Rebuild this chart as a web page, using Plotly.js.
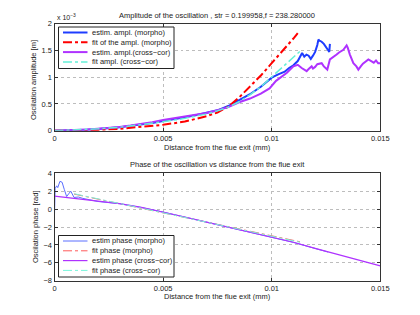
<!DOCTYPE html>
<html>
<head>
<meta charset="utf-8">
<script src="https://cdn.plot.ly/plotly-3.0.1.min.js"></script>
<style>html,body{margin:0;padding:0;background:#fff;}#chart{width:420px;height:315px;}</style>
</head>
<body>
<div id="chart"></div>
<script>
// ---------- DATA (amplitudes in units of 1e-3 m) ----------
var xAmpMorpho = [0,0.0005,0.001,0.0015,0.002,0.0025,0.003,0.0035,0.004,0.0045,0.005,0.0055,0.006,0.0065,0.007,0.0075,0.008,0.0085,0.009,0.0095,0.01,0.0103,0.0106,0.0108,0.011,0.0112,0.01135,0.0114,0.0115,0.0116,0.0117,0.0118,0.0119,0.012,0.0121,0.01215,0.0122,0.0123,0.0124,0.0125,0.0126,0.01265,0.01268];
var ampMorpho  = [0,0.003,0.01,0.02,0.03,0.045,0.065,0.09,0.115,0.145,0.18,0.21,0.25,0.29,0.33,0.38,0.46,0.57,0.68,0.82,0.99,1.05,1.1,1.17,1.22,1.3,1.42,1.45,1.38,1.42,1.40,1.34,1.40,1.47,1.6,1.70,1.68,1.66,1.62,1.57,1.50,1.47,1.62];

var xFitMorpho = [0,0.001,0.002,0.003,0.004,0.005,0.006,0.007,0.0075,0.008,0.0085,0.009,0.0095,0.01,0.0105,0.011,0.0112];
var fitMorpho  = [0,0.005,0.015,0.035,0.07,0.11,0.17,0.27,0.34,0.45,0.62,0.82,1.03,1.26,1.48,1.72,1.82];

var xAmpCross = [0,0.0005,0.001,0.0015,0.002,0.0025,0.003,0.0035,0.004,0.0045,0.005,0.0055,0.006,0.0065,0.007,0.0075,0.008,0.0085,0.009,0.0095,0.0099,0.0102,0.0105,0.0107,0.011,0.0112,0.01138,0.0115,0.01161,0.0117,0.01184,0.0119,0.012,0.0121,0.0123,0.0124,0.01256,0.01268,0.0128,0.01299,0.0131,0.0132,0.0133,0.01345,0.0135,0.0136,0.01376,0.0139,0.01399,0.0141,0.0142,0.01445,0.0146,0.0147,0.0148,0.0149,0.015];
var ampCross  = [0,0.004,0.012,0.022,0.035,0.05,0.07,0.095,0.125,0.16,0.20,0.235,0.27,0.30,0.33,0.38,0.44,0.53,0.6,0.69,0.79,0.93,1.02,1.08,1.2,1.23,1.17,1.14,1.11,1.15,1.2,1.16,1.19,1.24,1.26,1.2,1.14,1.33,1.36,1.42,1.46,1.48,1.51,1.59,1.55,1.42,1.26,1.2,1.14,1.2,1.25,1.33,1.30,1.27,1.31,1.26,1.26];

var xFitCross = [0,0.001,0.002,0.003,0.004,0.005,0.006,0.007,0.0075,0.008,0.0085,0.009,0.0095,0.01,0.0105,0.011,0.0113];
var fitCross  = [0,0.015,0.035,0.065,0.11,0.165,0.23,0.31,0.37,0.44,0.54,0.67,0.82,1.0,1.18,1.37,1.48];

// phase (rad)
var xPhMorpho = [0,0.00003,0.0001,0.00015,0.00025,0.00035,0.00045,0.00056,0.00065,0.00075,0.0009,0.0011,0.0013,0.0015,0.002,0.003,0.004,0.005,0.006,0.007,0.008,0.009,0.0099,0.0101,0.011,0.012,0.0126];
var phMorpho  = [-0.6,2.3,2.6,2.4,3.1,3.0,2.2,1.4,1.7,2.0,1.3,1.35,1.2,1.1,0.85,0.6,0.18,-0.33,-0.9,-1.47,-2.05,-2.6,-3.07,-3.25,-3.72,-4.4,-4.8];

var xPhFitMorpho = [0.0009,0.002,0.003,0.004,0.005,0.006,0.007,0.008,0.009,0.01,0.011,0.0113];
var phFitMorpho  = [1.68,1.12,0.6,0.1,-0.42,-0.95,-1.47,-2.0,-2.5,-2.95,-3.5,-3.65];

var xPhCross = [0,0.0015,0.003,0.004,0.005,0.006,0.007,0.008,0.009,0.0099,0.0101,0.011,0.012,0.013,0.014,0.015];
var phCross  = [1.45,1.02,0.62,0.2,-0.32,-0.88,-1.45,-2.02,-2.58,-3.05,-3.22,-3.7,-4.38,-5.05,-5.72,-6.35];

var xPhFitCross = [0.0009,0.002,0.003,0.004,0.005,0.006,0.007,0.008,0.009,0.01,0.011,0.0113];
var phFitCross  = [1.72,1.15,0.6,0.06,-0.48,-1.0,-1.52,-2.04,-2.56,-3.05,-3.55,-3.7];

var xTickVals = [0,0.005,0.01,0.015];
var xTickText = ['0','0.005','0.01','0.015'];
var ampTickVals = [0,0.5,1,1.5,2];
var ampTickText = ['0','0.5','1','1.5','2'];
var phTickVals = [-8,-6,-4,-2,0,2,4];
var phTickText = ['\u22128','\u22126','\u22124','\u22122','0','2','4'];

var topNames = ['estim. ampl. (morpho)','fit of the ampl. (morpho)','estim. ampl.(cross\u2212cor)','fit ampl. (cross\u2212cor)'];
var botNames = ['estim phase (morpho)','fit phase (morpho)','estim phase (cross\u2212cor)','fit phase (cross\u2212cor)'];
var topTitle = 'Amplitude of the oscillation , str = 0.199958,f = 238.280000';
var botTitle = 'Phase of the oscillation vs distance from the flue exit';
var xLabel = 'Distance from the flue exit (mm)';
var yLabelTop = 'Oscilation amplitude [m]';
var yLabelBot = 'Oscilation phase [rad]';

// ---------- STYLE ----------
var W = 420, H = 315;
var FONT = 'Liberation Sans, Arial, Helvetica, sans-serif';
var FS = 7.5;
var cBlue = 'rgb(30,60,255)', cRed = 'rgb(255,0,0)', cPurple = 'rgb(175,50,255)', cCyan = 'rgb(100,240,215)';
var cBlue2 = 'rgb(90,110,255)', cRed2 = 'rgb(255,90,90)', cCyan2 = 'rgb(120,245,220)';
function px(x){return x/W;}
function py(y){return 1-y/H;}

var topStyles = [
  {color:cBlue, width:2, dash:'solid'},
  {color:cRed, width:2, dash:'dashdot'},
  {color:cPurple, width:2, dash:'solid'},
  {color:cCyan, width:1.5, dash:'dashdot'}
];
var botStyles = [
  {color:cBlue2, width:1, dash:'solid'},
  {color:cRed2, width:1, dash:'dashdot'},
  {color:cPurple, width:1.2, dash:'solid'},
  {color:cCyan2, width:1, dash:'dashdot'}
];

var traces = [
  {x:xAmpMorpho, y:ampMorpho, name:topNames[0], line:topStyles[0]},
  {x:xFitMorpho, y:fitMorpho, name:topNames[1], line:topStyles[1]},
  {x:xAmpCross, y:ampCross, name:topNames[2], line:topStyles[2]},
  {x:xFitCross, y:fitCross, name:topNames[3], line:topStyles[3]},
  {x:xPhMorpho, y:phMorpho, name:botNames[0], line:botStyles[0], xaxis:'x2', yaxis:'y2'},
  {x:xPhFitMorpho, y:phFitMorpho, name:botNames[1], line:botStyles[1], xaxis:'x2', yaxis:'y2'},
  {x:xPhCross, y:phCross, name:botNames[2], line:botStyles[2], xaxis:'x2', yaxis:'y2'},
  {x:xPhFitCross, y:phFitCross, name:botNames[3], line:botStyles[3], xaxis:'x2', yaxis:'y2'}
].map(function(t){t.type='scatter';t.mode='lines';t.showlegend=false;t.hoverinfo='skip';return t;});

var axCommon = {
  showline:true, linecolor:'#333', linewidth:1, mirror:'ticks',
  ticks:'inside', ticklen:3, tickcolor:'#333', tickwidth:1,
  showgrid:true, gridcolor:'#bdbdbd', griddash:'dot', gridwidth:1,
  zeroline:false, tickfont:{family:FONT,size:FS,color:'#222'},
  tickmode:'array', fixedrange:true, automargin:false
};
function ax(o){var r={};for(var k in axCommon)r[k]=axCommon[k];for(var k2 in o)r[k2]=o[k2];return r;}

var xDom = [px(54.5), px(380.3)];
var layout = {
  width:W, height:H, margin:{l:0,r:0,t:0,b:0,pad:0},
  paper_bgcolor:'#fff', plot_bgcolor:'#fff', showlegend:false,
  font:{family:FONT,size:FS,color:'#222'},
  xaxis: ax({domain:xDom, anchor:'y', range:[0,0.015], tickvals:xTickVals, ticktext:xTickText}),
  yaxis: ax({domain:[py(130.7), py(23.5)], anchor:'x', range:[0,2], tickvals:ampTickVals, ticktext:ampTickText}),
  xaxis2: ax({domain:xDom, anchor:'y2', range:[0,0.015], tickvals:xTickVals, ticktext:xTickText}),
  yaxis2: ax({domain:[py(280.7), py(173.3)], anchor:'x2', range:[-8,4], tickvals:phTickVals, ticktext:phTickText}),
  annotations:[], shapes:[]
};

function addText(txt, x, y, xa, ya, extra){
  var a = {text:txt, x:px(x), y:py(y), xref:'paper', yref:'paper', xanchor:xa, yanchor:ya, showarrow:false,
    font:{family:FONT,size:FS,color:'#222'}};
  if(extra) for(var k in extra) a[k]=extra[k];
  layout.annotations.push(a);
}
addText(topTitle, 217.4, 15, 'center', 'middle');
addText(botTitle, 217.4, 164, 'center', 'middle');
addText('x 10<sup>\u22123</sup>', 55, 17, 'left', 'middle', {font:{family:FONT,size:7,color:'#222'}});
addText(xLabel, 217.4, 147, 'center', 'middle');
addText(xLabel, 217.4, 296, 'center', 'middle');
addText(yLabelTop, 33, 80, 'center', 'middle', {textangle:-90});
addText(yLabelBot, 35.5, 226.5, 'center', 'middle', {textangle:-90});

function addLegend(top, names, styles){
  layout.shapes.push({type:'rect', xref:'paper', yref:'paper', x0:px(58.5), x1:px(174), y0:py(top), y1:py(top+41.5),
    line:{color:'#222', width:1}, fillcolor:'#fff', layer:'above'});
  for(var i=0;i<names.length;i++){
    var yy = top + 5.5 + i*9.8;
    layout.shapes.push({type:'line', xref:'paper', yref:'paper', x0:px(63), x1:px(87.5), y0:py(yy), y1:py(yy),
      line:{color:styles[i].color, width:styles[i].width, dash:styles[i].dash}, layer:'above'});
    addText(names[i], 89.5, yy, 'left', 'middle');
  }
}
addLegend(27, topNames, topStyles);
addLegend(235.5, botNames, botStyles);

Plotly.newPlot('chart', traces, layout, {staticPlot:true, displayModeBar:false});
</script>
</body>
</html>
